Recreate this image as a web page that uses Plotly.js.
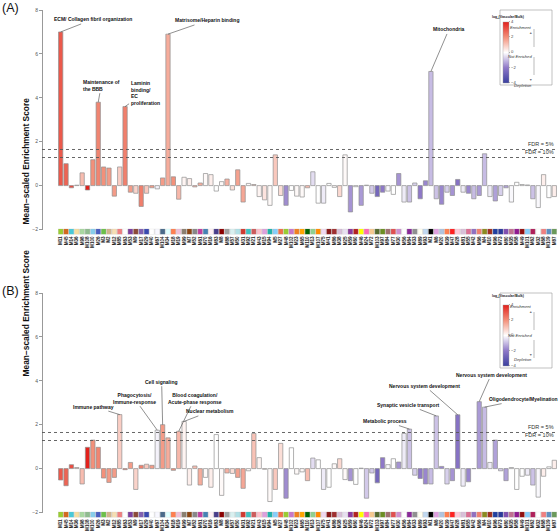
<!DOCTYPE html>
<html>
<head>
<meta charset="utf-8">
<script src="https://cdn.plot.ly/plotly-3.0.1.min.js"></script>
<style>html,body{margin:0;padding:0;background:#fff;}#chart{width:560px;height:531px;}</style>
</head>
<body>
<div id="chart"></div>
<script>
// ---------------- DATA ----------------
const modules = ["M11","M45","M14","M36","M98","M108","M100","M26","M3","M2",
"M12","M85","M63","M53","M9","M17","M29","M40","M67","M104",
"M34","M18","M19","M99","M7","M52","M61","M70","M16","M83",
"M8","M88","M57","M50","M31","M92","M21","M43","M15","M94",
"M5","M27","M48","M102","M23","M65","M110","M13","M107","M75",
"M41","M86","M38","M25","M59","M60","M46","M24","M72","M103",
"M97","M84","M77","M30","M56","M64","M33","M89","M93","M1",
"M6","M20","M39","M47","M28","M81","M55","M42","M66","M4",
"M10","M96","M73","M80","M35","M58","M49","M101","M62","M32",
"M68","M109","M87"];

// Panel A: mean-scaled enrichment score
const scoreA = [7.0, 1.0, -0.1, 0.02, 0.58, -0.2, 1.18, 3.8, 0.85, 0.8,
-0.48, 0.85, 3.6, -0.3, -0.35, -0.95, -0.35, -0.1, -0.15, 0.35,
6.9, 0.4, -0.62, 0.38, 0.32, -0.06, 0.12, 0.55, 0.5, -0.25,
0.18, 0.3, -0.2, 0.72, -0.75, 0.1, 0.05, -0.5, -0.65, -0.9,
1.4, -0.45, -0.9, -0.22, -0.48, -0.52, -0.1, 0.63, -0.8, -0.8,
0.1, -0.08, -0.5, 1.4, -1.2, -0.05, -0.9, 0.02, -0.35, -0.5,
-0.3, -0.25, -0.4, 0.55, -0.75, -0.75, 0.12, -0.6, 0.22, 5.2,
-0.6, -0.85, -0.3, -0.45, 0.28, -0.3, -0.35, -0.6, -0.45, 1.45,
-0.5, -0.7, -0.45, -0.1, -0.75, 0.15, 0.05, 0.03, -0.6, -1.0,
0.5, -0.55, -0.5];

// Panel B: mean-scaled enrichment score
const scoreB = [-0.52, -0.78, 0.18, 0.05, -0.7, 0.97, 1.3, 0.97, -0.43, -0.63,
-0.4, 2.46, -0.05, 0.28, -0.95, 0.15, 0.2, 0.15, 1.75, 2.0,
1.4, -0.08, 1.7, 2.15, -0.75, 0.12, -0.75, -0.4, -0.85, 1.55,
-1.22, -0.2, -0.22, -0.4, -0.9, -0.1, 1.6, 0.5, -0.03, -1.5,
-0.95, 1.15, -1.35, 0.95, -0.25, -0.15, -0.55, 0.48, 0.4, -0.95,
-0.85, 0.22, 0.45, -0.5, -0.55, -0.72, 0.02, -1.35, -0.2, -0.65,
0.5, 0.18, 0.45, 0.3, 1.6, 1.8, -0.3, -0.45, -0.7, -0.7,
2.4, 0.1, -0.7, -0.55, 2.45, -0.8, -0.6, 0.0, 3.05, 2.8,
0.28, 1.3, -0.1, -0.55, 0.05, -0.95, -0.35, -0.3, -0.75, -1.3,
-0.35, 0.08, 0.38];

// log2(Vascular/Bulk) per module (bar fill)
const log2Ratio = [3.0, 2.8, 3.2, 1.0, 1.2, 4.0, 2.0, 2.2, 2.0, 1.8,
1.8, 0.9, 2.3, 1.8, 0.8, 2.3, 1.0, 1.8, -0.2, 1.8,
1.5, 2.0, 1.3, 0.2, 0.3, 1.2, 1.5, 0.1, 0.3, 0.0,
0.1, 1.4, 0.6, 1.7, 1.6, 0.1, 1.1, 0.2, 0.5, 0.1,
1.0, 0.6, -1.7, 0.0, 0.1, 0.1, 1.2, -0.5, 0.0, -0.3,
0.0, 0.1, 0.7, 0.1, -1.6, 0.0, -1.5, -0.8, -0.8, -2.6,
-2.0, -0.1, 0.0, -1.6, -0.3, -0.9, -0.7, -2.0, -1.8, -1.0,
-0.9, -1.8, -0.7, -1.6, -2.2, -0.3, -1.8, -1.0, -1.5, -1.0,
-0.3, -1.4, -0.7, -1.4, -0.1, 0.0, 0.0, -0.3, -0.9, -0.1,
0.3, 0.0, 0.3];

// module colour strip
const moduleColors = ['#9acd32','#d2691e','#48c9d8','#f5dea0','#a8d8a0','#8fbc8f','#87ceeb','#4a5fc0','#6cc04a','#d2b48c',
'#f5deb3','#f08080','#ffffff','#7b3f9e','#8b4a3a','#8060b0','#3a4ab0','#ffffff','#f8f8ff','#4a6a8a',
'#e0ffff','#ff7f50','#f0c0d8','#8a7f70','#8b4513','#888888','#c040a0','#4682b4','#fff0f5','#483d8b',
'#8b0000','#a0a0a0','#d8f0f0','#b0e0e6','#d03a30','#40c0c0','#cd5c5c','#ffc0cb','#dda0dd','#20b2aa',
'#87cefa','#f0704a','#9acd32','#c878c8','#f08020','#ffa500','#006400','#90d090','#ff8c00','#f0d8f0',
'#8b1a1a','#a03030','#d8bfd8','#e8e0f0','#8b3a9b','#b22222','#ffff00','#ff69b4','#f5c890','#556b2f',
'#6b8e23','#a07070','#e05050','#d090d0','#ffffff','#8a2a9a','#909090','#fffff0','#c0d8f0','#000000',
'#e0a0e0','#b0c4de','#ff7f50','#ff2020','#ffc8d8','#d8c0d8','#db7093','#9070c0','#f08070','#8b8b20',
'#a03020','#2040a0','#2a3a9a','#8050b0','#c07090','#901a90','#901010','#87cefa','#b0205a','#ffffff',
'#f08080','#6090c0','#6a9a5a'];

const yTicks = [-2, 0, 2, 4, 6, 8];
const fdrLevels = [1.645, 1.28];
const fdrLabels = ['FDR = 5%', 'FDR = 10%'];
const cbTicks = [-4, -2, 0, 2, 4];
const legendTexts = ['Enrichment', 'Not Enriched', 'Depletion'];

// annotated modules: [index, text]
const labelsA = [
  [0, 'ECM/ Collagen fibril organization'],
  [7, 'Maintenance of<br>the BBB'],
  [12, 'Laminin<br>binding/<br>EC<br>proliferation'],
  [20, 'Matrisome/Heparin binding'],
  [69, 'Mitochondria']
];
const labelsB = [
  [11, 'Immune pathway'],
  [18, 'Phagocytosis/<br>Immune-response'],
  [19, 'Cell signaling'],
  [22, 'Blood coagulation/<br>Acute-phase response'],
  [23, 'Nuclear metabolism'],
  [65, 'Metabolic process'],
  [70, 'Synaptic vesicle transport'],
  [74, 'Nervous system development'],
  [78, 'Nervous system development'],
  [79, 'Oligodendrocyte/Myelination']
];

// ---------------- STYLE / LAYOUT ----------------
const W = 560, H = 531;
const px = x => x / W;
const py = y => 1 - y / H;
const FONT = '"Liberation Sans", Arial, sans-serif';
const OFF = 283; // vertical offset of panel B in pixels

const cscale = [[0,'#3a3f9f'],[0.25,'#8e78c8'],[0.5,'#ffffff'],[0.75,'#f3907a'],[1,'#e3211c']];

// label offsets (pixels) of text relative to bar tops
const offA = [[32,-12.5,'center'],[3,-17,'left'],[20,-14,'left'],[39.5,-13.7,'center'],[18,-42,'center']];
const offB = [[-26,-8,'center'],[-23,-32,'center'],[-1,-43,'center'],[16,-33,'center'],[26,-10,'center'],
              [-24,-8,'center'],[-28,-11,'center'],[-33,-29,'center'],[12,-27,'center'],[39,-8,'center']];

function barTrace(vals, xa, ya, cax) {
  return {type:'bar', x:modules, y:vals, xaxis:xa, yaxis:ya, width:0.8,
    marker:{color:log2Ratio, coloraxis:cax, line:{color:'#8f8f8f', width:0.7}},
    hoverinfo:'skip'};
}
function stripTrace(xa, ya) {
  return {type:'bar', x:modules, y:modules.map(() => 1), xaxis:xa, yaxis:ya, width:0.9,
    marker:{color:moduleColors, line:{color:'#b0b0b0', width:0.3}}, hoverinfo:'skip'};
}

const data = [
  barTrace(scoreA, 'x', 'y', 'coloraxis'),
  barTrace(scoreB, 'x2', 'y2', 'coloraxis2'),
  stripTrace('x3', 'y3'),
  stripTrace('x4', 'y4')
];

const xDom = [px(58), px(557)];
const xRange = [-0.5, modules.length - 0.5];
function yAx(top, bottom) {
  return {domain:[py(bottom), py(top)], range:[-2, 8], anchor:'free', position:px(42),
    tickmode:'array', tickvals:yTicks, ticks:'outside', ticklen:3, tickwidth:0.6, tickcolor:'#555',
    showline:true, linecolor:'#555', linewidth:0.6, showgrid:false, zeroline:false,
    tickfont:{size:5, color:'#555', family:FONT}};
}
function xHidden(ya) {
  return {domain:xDom, anchor:ya, range:xRange, type:'category', visible:false};
}
function xStrip(ya) {
  return {domain:xDom, anchor:ya, range:xRange, type:'category', showline:false, ticks:'',
    showgrid:false, zeroline:false, tickmode:'array', tickvals:modules, ticktext:modules,
    tickangle:-90, tickfont:{size:4.6, color:'#222', family:FONT, weight:'bold'}};
}

function colorAx(top) {
  return {cmin:-4, cmax:4, colorscale:cscale, showscale:true,
    colorbar:{x:px(503), xanchor:'left', xref:'paper', xpad:0, ypad:0,
      y:py(top + 42), yanchor:'middle', yref:'paper', len:61, lenmode:'pixels',
      thickness:6, thicknessmode:'pixels', outlinewidth:0.4, outlinecolor:'#999',
      tickmode:'array', tickvals:cbTicks, ticks:'outside', ticklen:1.5, tickwidth:0.5, tickcolor:'#666',
      tickfont:{size:4.2, color:'#444', family:FONT}}};
}

const shapes = [];
const annotations = [];

function addPanel(ya, xa, yTop, scores, labels, offs, panelLetter) {
  // FDR lines and labels
  fdrLevels.forEach((lvl, i) => {
    shapes.push({type:'line', xref:'paper', yref:ya, x0:px(42), x1:px(557), y0:lvl, y1:lvl,
      line:{dash:'dot', width:0.9, color:'#555'}});
    annotations.push({xref:'paper', yref:ya, x:px(556), y:lvl, xanchor:'right', yanchor:'bottom',
      yshift:0.5, text:fdrLabels[i], showarrow:false, font:{size:5.5, color:'#333', family:FONT}});
  });
  // module labels with leader lines
  labels.forEach((l, i) => {
    const idx = l[0];
    annotations.push({xref:xa, yref:ya, x:modules[idx], y:scores[idx], text:l[1],
      showarrow:true, arrowhead:0, arrowwidth:0.6, arrowcolor:'#444', standoff:0, startstandoff:0,
      ax:offs[i][0], ay:offs[i][1], align:offs[i][2],
      font:{size:5, color:'#111', family:FONT, weight:'bold'}});
  });
  // y title
  annotations.push({xref:'paper', yref:'paper', x:px(18), y:py(yTop + 86), text:'Mean\u2212scaled Enrichment Score',
    textangle:-90, showarrow:false, font:{size:8.4, color:'#111', family:FONT, weight:'bold'}});
  // panel letter
  annotations.push({xref:'paper', yref:'paper', x:px(0), y:py(yTop - 2), xanchor:'left', yanchor:'middle',
    text:panelLetter, showarrow:false, font:{size:12.5, color:'#111', family:FONT}});
  // legend box
  shapes.push({type:'rect', xref:'paper', yref:'paper', x0:px(500), x1:px(552), y0:py(yTop + 75), y1:py(yTop),
    line:{color:'#999', width:0.6}, fillcolor:'white', layer:'below'});
  annotations.push({xref:'paper', yref:'paper', x:px(526), y:py(yTop + 3.2), text:'log<sub>2</sub>(Vascular/Bulk)',
    showarrow:false, font:{size:3.5, color:'#222', family:FONT, weight:'bold'}});
  const ly = [13, 42, 71];
  legendTexts.forEach((t, i) => annotations.push({xref:'paper', yref:'paper', x:px(534), y:py(yTop + ly[i]), text:t,
    showarrow:false, font:{size:4.1, color:'#333', family:FONT, style:'italic'}}));
  // arrow shafts
  shapes.push({type:'line', xref:'paper', yref:'paper', x0:px(534), x1:px(534), y0:py(yTop + 19), y1:py(yTop + 37),
    line:{color:'#777', width:0.5}});
  shapes.push({type:'line', xref:'paper', yref:'paper', x0:px(534), x1:px(534), y0:py(yTop + 47), y1:py(yTop + 65),
    line:{color:'#777', width:0.5}});
  // arrow heads
  annotations.push({xref:'paper', yref:'paper', x:px(534), y:py(yTop + 18.5), text:'\u25B2', showarrow:false,
    font:{size:3.5, color:'#777', family:FONT}});
  annotations.push({xref:'paper', yref:'paper', x:px(534), y:py(yTop + 65.5), text:'\u25BC', showarrow:false,
    font:{size:3.5, color:'#777', family:FONT}});
}

addPanel('y', 'x', 10, scoreA, labelsA, offA, '(A)');
addPanel('y2', 'x2', 10 + OFF, scoreB, labelsB, offB, '(B)');

const layout = {
  width:W, height:H, margin:{l:0, r:0, t:0, b:0, pad:0},
  paper_bgcolor:'#ffffff', plot_bgcolor:'rgba(0,0,0,0)', showlegend:false,
  font:{family:FONT, color:'#222'},
  xaxis:xHidden('y'), yaxis:yAx(10, 229.5),
  xaxis2:xHidden('y2'), yaxis2:yAx(10 + OFF, 229.5 + OFF),
  xaxis3:xStrip('y3'), yaxis3:{domain:[py(234.5), py(228.7)], range:[0, 1], visible:false, anchor:'x3'},
  xaxis4:xStrip('y4'), yaxis4:{domain:[py(234.5 + OFF), py(228.7 + OFF)], range:[0, 1], visible:false, anchor:'x4'},
  coloraxis:colorAx(10), coloraxis2:colorAx(10 + OFF),
  shapes:shapes, annotations:annotations
};

Plotly.newPlot('chart', data, layout, {staticPlot:true, displayModeBar:false});
</script>
</body>
</html>
